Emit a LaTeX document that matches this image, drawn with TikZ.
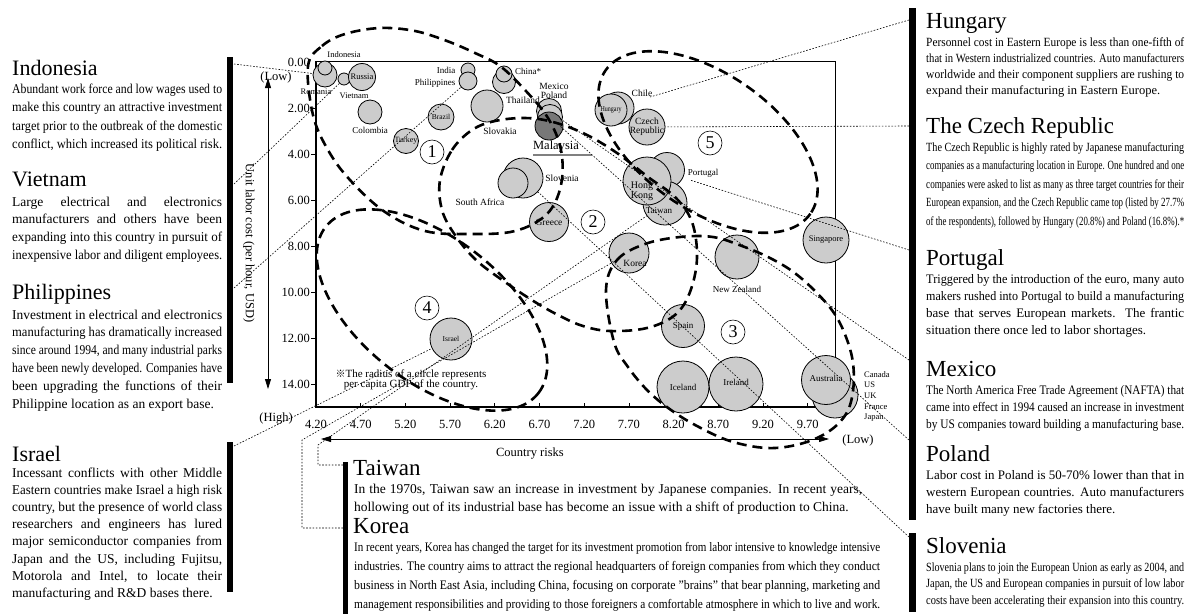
\documentclass[tikz,border=0pt]{standalone}
\usepackage{fontspec}
\setmainfont{Liberation Serif}
\newfontfamily\markfont{Noto Sans CJK JP}
\usepackage{graphicx}
\usetikzlibrary{arrows.meta}
\definecolor{bubble}{RGB}{204,204,204}
\definecolor{darkbubble}{RGB}{120,120,120}

\newcommand\fsz[1]{\fontsize{#1}{#1}\selectfont}
\newsavebox\linebox
\newlength\natw
% justified line: stretch the spaces, or squeeze the line if it is too long
\newcommand\jl[1]{\par\noindent\sbox\linebox{#1}\setlength\natw{\wd\linebox}%
  \ifdim\natw>\linewidth\pgfmathparse{\linewidth/\natw}\scalebox{\pgfmathresult}[1]{\usebox\linebox}%
  \else\makebox[\linewidth][s]{#1}\fi}
% last line of a paragraph: natural width unless too long
\newcommand\el[1]{\par\noindent\sbox\linebox{#1}\setlength\natw{\wd\linebox}%
  \ifdim\natw>\linewidth\pgfmathparse{\linewidth/\natw}\scalebox{\pgfmathresult}[1]{\usebox\linebox}%
  \else\usebox\linebox\fi}
\newcommand\txtblock[4]{\parbox[t]{#1}{\fontsize{#2}{#3}\selectfont#4}}

\begin{document}
\begin{tikzpicture}[x=1pt,y=-1pt,
  cty/.style={circle,draw,line width=0.8pt,fill=bubble,inner sep=0pt},
  lab/.style={inner sep=0pt,font=\fsz{9}},
  head/.style={anchor=base west,inner sep=0pt,font=\fsz{22}},
  body/.style={anchor=base west,inner sep=0pt},
  ldr/.style={line width=0.6pt,dash pattern=on 1.6pt off 1.6pt},
  grp/.style={line width=2.6pt,dash pattern=on 10pt off 6pt},
  num/.style={circle,draw,line width=0.6pt,inner sep=0pt,minimum size=24pt,font=\fsz{18}},
  tick/.style={inner sep=0pt,font=\fsz{12.5}},
  bar/.style={fill=black}]
\useasboundingbox (0,0) rectangle (1189,614);
\fill[white] (0,0) rectangle (1189,614);

% ---------- plot frame and axes ----------
\draw[line width=0.8pt] (316,61) -- (835,61) -- (835,407);
\draw[line width=1.6pt] (316,61) -- (316,407) -- (835,407);
\foreach \i in {1,...,7} \draw[line width=0.8pt] (311,{62+46*\i}) -- (316,{62+46*\i});
\foreach \i in {1,...,11} \draw[line width=0.8pt] ({316+44.7*\i},403) -- ({316+44.7*\i},407);
\foreach \v [count=\i from 0] in {0.00,2.00,4.00,6.00,8.00,10.00,12.00,14.00}
  \node[tick,anchor=east] at (310,{62+46*\i}) {\v};
\foreach \v [count=\i from 0] in {4.20,4.70,5.20,5.70,6.20,6.70,7.20,7.70,8.20,8.70,9.20,9.70}
  \node[tick] at ({316+44.7*\i},424) {\v};

\node[tick] (yLow) at (276,77) {(Low)};
\node[tick] (yHigh) at (276,419) {(High)};
\coordinate (yA) at (268,78); \coordinate (yB) at (268,389);
\draw[{Triangle[length=10pt,width=6pt]}-{Triangle[length=10pt,width=6pt]},line width=0.8pt] (yA) -- (yB);
\node[tick,rotate=-90] (ylab) at (249,243) {Unit labor cost (per hour, USD)};

\coordinate (xA) at (321,439); \coordinate (xB) at (829,439);
\draw[{Triangle[length=10pt,width=6pt]}-{Triangle[length=10pt,width=6pt]},line width=0.8pt] (xA) -- (xB);
\node[tick] (xLow) at (858,440) {(Low)};
\node[tick] (xlab) at (530,454) {Country risks};

% ---------- countries (radius = GDP per capita) ----------
\node[cty,minimum size=24pt] (cRom) at (325,75) {};
\node[cty,minimum size=14pt] (cIndo) at (325,68) {};
\node[cty,minimum size=12pt] (cViet) at (344,79) {};
\node[cty,minimum size=27pt,font=\fsz{8.5}] (cRus) at (362,77) {Russia};
\node[cty,minimum size=24pt] (cCol) at (370,112) {};
\node[cty,minimum size=26pt,font=\fsz{7.5}] (cBra) at (441,117) {Brazil};
\node[cty,minimum size=25pt,font=\fsz{8}] (cTur) at (406,141) {Turkey};
\node[cty,minimum size=14pt] (cInd) at (468,70) {};
\node[cty,minimum size=18pt] (cPhi) at (468,81) {};
\node[cty,minimum size=23pt] (cChiB) at (504,82) {};
\node[cty,minimum size=16pt] (cChi) at (504,74) {};
\node[cty,minimum size=32pt] (cSlk) at (487,106) {};
\node[cty,minimum size=25pt] (cMex) at (549,111) {};
\node[cty,minimum size=25pt] (cPol) at (550,117) {};
\node[cty,minimum size=28pt,fill=darkbubble] (cMal) at (549,126) {};
\node[cty,minimum size=40pt] (cSlo) at (523,178) {};
\node[cty,minimum size=30pt] (cSAf) at (513,183) {};
\node[cty,minimum size=39pt,font=\fsz{9.5}] (cGre) at (549,222) {Greece};
\node[cty,minimum size=32pt] (cChl) at (618,108) {};
\node[cty,minimum size=32pt,font=\fsz{7.5}] (cHun) at (611,110) {\scalebox{0.8}[1]{Hungary}};
\node[cty,minimum size=36pt] (cCze) at (647,127) {};
\node[lab,font=\fsz{9.5}] at (647,121) {Czech};
\node[lab,font=\fsz{9.5}] at (647,131) {Republic};
\node[cty,minimum size=35pt] (cPor) at (667,170) {};
\node[cty,minimum size=44pt] (cTw) at (665,203) {};
\node[cty,minimum size=48pt] (cHK) at (647,181) {};
\node[cty,minimum size=40pt] (cKor) at (629,253) {};
\node[cty,minimum size=44pt] (cNZ) at (737,257) {};
\node[cty,minimum size=46pt,font=\fsz{8.5}] (cSin) at (826,240) {Singapore};
\node[cty,minimum size=43pt,font=\fsz{9}] (cSpa) at (683,326) {Spain};
\node[cty,minimum size=52pt,font=\fsz{9}] (cIce) at (683,387) {Iceland};
\node[cty,minimum size=54pt] (cIre) at (736,384) {};
\node[cty,minimum size=46pt] (cCan) at (835,395) {};
\node[cty,minimum size=49pt] (cAus) at (826,380) {};
\node[cty,minimum size=42pt,font=\fsz{7.5}] (cIsr) at (451,339) {Israel};

% labels beside or on the circles
\node[lab,font=\fsz{8.5}] at (344,55) {Indonesia};
\node[lab,font=\fsz{8.5}] at (316,92) {Romania};
\node[lab,font=\fsz{8.5}] at (354,96) {Vietnam};
\node[lab] at (370,130) {Colombia};
\node[lab] at (446,70) {India};
\node[lab] at (435,83) {Philippines};
\node[lab] at (528,71) {China*};
\node[lab,font=\fsz{9.5}] at (523,100) {Thailand};
\node[lab,font=\fsz{9.5}] at (500,131) {Slovakia};
\node[lab,font=\fsz{9.5}] at (554,86) {Mexico};
\node[lab,font=\fsz{9.5}] at (554,95) {Poland};
\node[lab,font=\fsz{12.5}] (tMal) at (556,147) {Malaysia};
\draw[gray,line width=1.2pt] (533,155) -- (592,155);
\node[lab,font=\fsz{9.5}] at (562,178) {Slovenia};
\node[lab,font=\fsz{9.5}] at (480,202) {South Africa};
\node[lab,font=\fsz{9.5}] at (642,93) {Chile};
\node[lab] at (703,173) {Portugal};
\node[lab,font=\fsz{10}] at (642,186) {Hong};
\node[lab,font=\fsz{10}] at (642,196) {Kong};
\node[lab] at (659,211) {Taiwan};
\node[lab,font=\fsz{9.5}] at (635,263) {Korea};
\node[lab] at (737,289) {New Zealand};
\node[lab] at (736,382) {Ireland};
\node[lab] at (826,378) {Australia};
\node[body] at (864,377) {\txtblock{40pt}{8.5}{10.7}{Canada\\US\\UK\\France\\Japan}};

\node[inner sep=0pt,font=\fsz{11},align=center] (note) at (411,380)
  {{\markfont\fsz{10}※}The radius of a circle represents\\[-1pt]per capita GDP of the country.};

% ---------- group outlines ----------
\draw[grp] plot[smooth cycle,tension=0.6] coordinates {(308,66) (322,46) (345,34) (380,28) (415,31) (447,41) (475,53) (500,66) (525,90) (548,118) (561,150) (561,185) (547,214) (515,231) (470,234) (425,231) (385,212) (350,180) (328,150) (313,115)};
\draw[grp] plot[smooth cycle,tension=0.6] coordinates {(440,180) (452,150) (472,130) (495,121) (525,118) (553,122) (585,134) (617,153) (648,177) (675,197) (692,222) (697,258) (690,292) (675,315) (647,328) (610,331) (583,326) (560,316) (535,302) (505,282) (476,260) (455,235) (442,210)};
\draw[grp] plot[smooth cycle,tension=0.6] coordinates {(606,290) (617,260) (645,244) (680,237) (713,237) (742,246) (768,257) (792,271) (814,290) (834,313) (846,337) (853,363) (853,391) (846,414) (828,432) (800,444) (767,448) (730,441) (697,426) (671,410) (648,391) (628,367) (614,342)};
\draw[grp,rotate around={-38:(432,310)}] (432,310) ellipse [x radius=135, y radius=72];
\draw[grp,rotate around={-35:(708,142)}] (708,142) ellipse [x radius=125, y radius=68];

\node[num] (n1) at (432,152) {1};
\node[num] (n2) at (593,222) {2};
\node[num] (n3) at (733,332) {3};
\node[num] (n4) at (427,308) {4};
\node[num] (n5) at (710,143) {5};

% ---------- side bars ----------
\fill[bar] (227,57) rectangle (233,383);
\fill[bar] (227,442) rectangle (233,592);
\fill[bar] (909,8) rectangle (916,520);
\fill[bar] (909,533) rectangle (916,612);
\fill[bar] (343,462) rectangle (348,614);

% ---------- leader lines ----------
\coordinate (pIndo) at (234,64);
\coordinate (pViet) at (234,184);
\coordinate (pPhi) at (234,288);
\coordinate (pIsr) at (234,446);
\coordinate (pHun) at (909,20);
\coordinate (pCze) at (909,126);
\coordinate (pPor) at (909,250);
\coordinate (pMex) at (909,360);
\coordinate (pPol) at (909,440);
\coordinate (pSlo) at (909,537);
\coordinate (hun) at (650,97);
\coordinate (por) at (690,180);
\coordinate (twA) at (343,465); \coordinate (twB) at (318,465); \coordinate (twC) at (318,445);
\coordinate (koA) at (343,528); \coordinate (koB) at (302,528); \coordinate (koC) at (302,440);
\draw[ldr] (pIndo) -- (cRom);
\draw[ldr] (pViet) -- (cViet);
\draw[ldr] (pPhi) -- (cPhi);
\draw[ldr] (pIsr) -- (cIsr);
\draw[ldr] (pHun) -- (hun);
\draw[ldr] (pCze) -- (cCze);
\draw[ldr] (pPor) -- (por);
\draw[ldr] (pMex) -- (cMex);
\draw[ldr] (pPol) -- (cPol);
\draw[ldr] (pSlo) -- (cSlo);
\draw[ldr] (twA) -- (twB) -- (twC) -- (cTw);
\draw[ldr] (koA) -- (koB) -- (koC) -- (cKor);

% ---------- left column ----------
\node[head] (hInd) at (12,75) {Indonesia};
\node[body] (bInd) at (12,93) {\txtblock{210pt}{13.5}{18.5}{%
\jl{Abundant work force and low wages used to}
\jl{make this country an attractive investment}
\jl{target prior to the outbreak of the domestic}
\el{conflict, which increased its political risk.}}};
\node[head] (hVie) at (12,186) {Vietnam};
\node[body] (bVie) at (12,206) {\txtblock{210pt}{13.5}{17.7}{%
\jl{Large electrical and electronics}
\jl{manufacturers and others have been}
\jl{expanding into this country in pursuit of}
\el{inexpensive labor and diligent employees.}}};
\node[head] (hPhi) at (12,299) {Philippines};
\node[body] (bPhi) at (12,319) {\txtblock{210pt}{13.5}{17.8}{%
\jl{Investment in electrical and electronics}
\jl{manufacturing has dramatically increased}
\jl{since around 1994, and many industrial parks}
\jl{have been newly developed. Companies have}
\jl{been upgrading the functions of their}
\el{Philippine location as an export base.}}};
\node[head] (hIsr) at (12,461) {Israel};
\node[body] (bIsr) at (12,477) {\txtblock{210pt}{13.5}{17.2}{%
\jl{Incessant conflicts with other Middle}
\jl{Eastern countries make Israel a high risk}
\jl{country, but the presence of world class}
\jl{researchers and engineers has lured}
\jl{major semiconductor companies from}
\jl{Japan and the US, including Fujitsu,}
\jl{Motorola and Intel, to locate their}
\el{manufacturing and R\&D bases there.}}};

% ---------- right column ----------
\node[head,font=\fsz{23}] (hHun) at (926,28) {Hungary};
\node[body] (bHun) at (926,46) {\txtblock{258pt}{12.5}{16}{%
\jl{Personnel cost in Eastern Europe is less than one-fifth of}
\jl{that in Western industrialized countries. Auto manufacturers}
\jl{worldwide and their component suppliers are rushing to}
\el{expand their manufacturing in Eastern Europe.}}};
\node[head,font=\fsz{23}] (hCze) at (926,133) {The Czech Republic};
\node[body] (bCze) at (926,151) {\txtblock{258pt}{12.5}{18.6}{%
\jl{The Czech Republic is highly rated by Japanese manufacturing}
\jl{companies as a manufacturing location in Europe. One hundred and one}
\jl{companies were asked to list as many as three target countries for their}
\jl{European expansion, and the Czech Republic came top (listed by 27.7\%}
\el{of the respondents), followed by Hungary (20.8\%) and Poland (16.8\%).*}}};
\node[head,font=\fsz{23}] (hPor) at (926,265) {Portugal};
\node[body] (bPor) at (926,283) {\txtblock{258pt}{13}{17.3}{%
\jl{Triggered by the introduction of the euro, many auto}
\jl{makers rushed into Portugal to build a manufacturing}
\jl{base that serves European markets. The frantic}
\el{situation there once led to labor shortages.}}};
\node[head,font=\fsz{23}] (hMex) at (926,376) {Mexico};
\node[body] (bMex) at (926,394) {\txtblock{258pt}{13}{17}{%
\jl{The North America Free Trade Agreement (NAFTA) that}
\jl{came into effect in 1994 caused an increase in investment}
\el{by US companies toward building a manufacturing base.}}};
\node[head,font=\fsz{23}] (hPol) at (926,461) {Poland};
\node[body] (bPol) at (926,479) {\txtblock{258pt}{13}{17}{%
\jl{Labor cost in Poland is 50-70\% lower than that in}
\jl{western European countries. Auto manufacturers}
\el{have built many new factories there.}}};
\node[head,font=\fsz{23}] (hSlo) at (926,553) {Slovenia};
\node[body] (bSlo) at (926,571) {\txtblock{258pt}{12.5}{16.5}{%
\jl{Slovenia plans to join the European Union as early as 2004, and}
\jl{Japan, the US and European companies in pursuit of low labor}
\el{costs have been accelerating their expansion into this country.}}};

% ---------- bottom block ----------
\node[head,font=\fsz{23}] (hTw) at (353,475) {Taiwan};
\node[body] (bTw) at (354,493) {\txtblock{508pt}{13.5}{18}{%
\jl{In the 1970s, Taiwan saw an increase in investment by Japanese companies. In recent years,}
\el{hollowing out of its industrial base has become an issue with a shift of production to China.}}};
\node[head,font=\fsz{23}] (hKo) at (353,533) {Korea};
\node[body] (bKo) at (354,551) {\txtblock{526pt}{13}{19}{%
\jl{In recent years, Korea has changed the target for its investment promotion from labor intensive to knowledge intensive}
\jl{industries. The country aims to attract the regional headquarters of foreign companies from which they conduct}
\jl{business in North East Asia, including China, focusing on corporate "brains" that bear planning, marketing and}
\el{management responsibilities and providing to those foreigners a comfortable atmosphere in which to live and work.}}};
\end{tikzpicture}
\end{document}
